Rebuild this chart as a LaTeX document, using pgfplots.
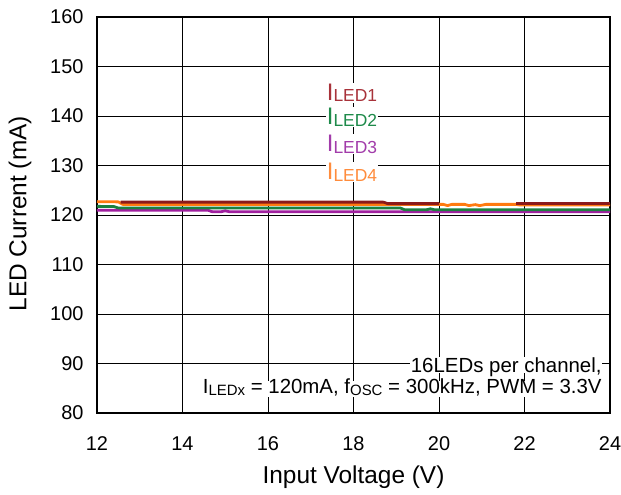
\documentclass[border=0pt]{standalone}
\usepackage{fontspec}
\setmainfont{Liberation Sans}
\usepackage{pgfplots}
\pgfplotsset{compat=1.18}
\definecolor{cA}{HTML}{8B1A1A}
\definecolor{cAt}{HTML}{A8323A}
\definecolor{cB}{HTML}{1B8040}
\definecolor{cBt}{HTML}{1E8A4A}
\definecolor{cC}{HTML}{A0209F}
\definecolor{cCt}{HTML}{A23CAA}
\definecolor{cD}{HTML}{FF7A10}
\definecolor{cDt}{HTML}{FF8C3C}
\begin{document}
\begin{tikzpicture}
\begin{axis}[
  at={(0,0)}, anchor=south west,
  scale only axis, width=513bp, height=396bp,
  xmin=12, xmax=24, ymin=80, ymax=160,
  xtick={12,14,...,24}, ytick={80,90,...,160},
  grid=major, major grid style={black, line width=0.8pt},
  axis line style={black, line width=1.2pt},
  major tick length=0pt,
  tick label style={font=\fontsize{20}{22}\selectfont},
  xticklabel style={yshift=-20bp},
  yticklabel style={xshift=-10bp},
  /pgf/number format/assume math mode=true,
  xlabel={Input Voltage (V)}, ylabel={LED Current (mA)},
  label style={font=\fontsize{24.5}{28}\selectfont},
  xlabel style={at={(axis description cs:0.5,-0.125)}, anchor=north},
  ylabel style={at={(axis description cs:-0.150,0.503)}, anchor=center},
  every axis plot/.append style={line width=2.8pt, line join=round},
]
\addplot[cC, no marks] coordinates {(12,120.95) (14.6,120.95) (14.7,120.65) (14.9,120.65) (15.0,120.85) (15.1,120.65) (24,120.65)};
\addplot[cB, no marks] coordinates {(12,121.75) (12.4,121.7) (12.5,121.4) (19.1,121.4) (19.2,121.05) (19.7,121.05) (19.8,121.25) (19.9,121.05) (24,121.05)};
\addplot[cD, no marks] coordinates {(12,122.7) (12.5,122.65) (12.6,122.15) (20.1,122.15) (20.2,121.9) (20.3,122.15) (20.6,122.15) (20.7,121.9) (20.85,122.1) (20.95,121.9) (21.1,122.15) (21.8,122.15) (21.9,122.0) (24,122.0)};
\addplot[cA, no marks] coordinates {(12.55,122.6) (18.7,122.6) (18.8,122.3) (20.0,122.3)};
\addplot[cA, no marks] coordinates {(21.8,122.35) (24,122.35)};
\node[anchor=base west, fill=white, inner sep=1pt, text=cAt] at (axis cs:17.35,143.2) {\fontsize{24}{26}\selectfont I\raisebox{-1.5bp}{\fontsize{17.5}{19}\selectfont LED1}};
\node[anchor=base west, fill=white, inner sep=1pt, text=cBt] at (axis cs:17.35,138.2) {\fontsize{24}{26}\selectfont I\raisebox{-1.5bp}{\fontsize{17.5}{19}\selectfont LED2}};
\node[anchor=base west, fill=white, inner sep=1pt, text=cCt] at (axis cs:17.35,132.8) {\fontsize{24}{26}\selectfont I\raisebox{-1.5bp}{\fontsize{17.5}{19}\selectfont LED3}};
\node[anchor=base west, fill=white, inner sep=1pt, text=cDt] at (axis cs:17.35,127.1) {\fontsize{24}{26}\selectfont I\raisebox{-1.5bp}{\fontsize{17.5}{19}\selectfont LED4}};
\node[anchor=base east, fill=white, inner sep=0.5pt, text depth=0pt, font=\fontsize{20.5}{24}\selectfont] at (axis cs:23.82,88.2) {16LEDs per channel,};
\node[anchor=base east, fill=white, inner sep=0.5pt, text height=12bp, font=\fontsize{20.5}{24}\selectfont] at (axis cs:23.82,83.9) {I\raisebox{-1.5bp}{\fontsize{15}{17}\selectfont LEDx} = 120mA, f\raisebox{-1.5bp}{\fontsize{15}{17}\selectfont OSC} = 300kHz, PWM = 3.3V};
\end{axis}
\pgfresetboundingbox
\path (-97bp,-82bp) rectangle (524bp,413bp);
\end{tikzpicture}
\end{document}
